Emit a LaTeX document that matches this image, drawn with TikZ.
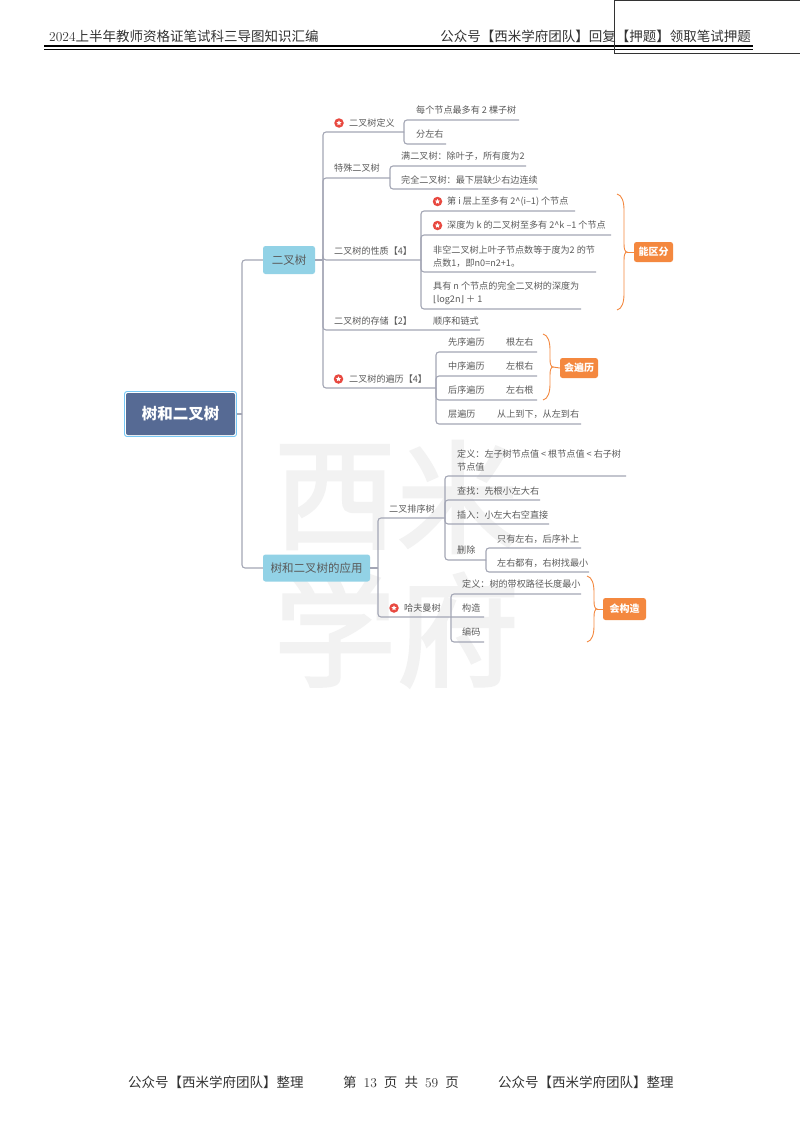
\documentclass[tikz,border=0pt]{standalone}
\usepackage{fontspec}
\usetikzlibrary{shapes.geometric}
\newfontfamily\cjk{Noto Sans CJK SC}
\newfontfamily\cjkwater[FakeBold=2.2]{Noto Sans CJK SC}
\newfontfamily\dejavu{DejaVu Sans}
\definecolor{txt}{HTML}{5A5A5A}
\definecolor{ln}{HTML}{A3A6B5}
\definecolor{org}{HTML}{F4883F}
\definecolor{sky}{HTML}{92D2E6}
\definecolor{navy}{HTML}{566A94}
\definecolor{wm}{HTML}{F2F2F2}
\definecolor{rd}{HTML}{E8483F}
\definecolor{rimb}{HTML}{78C8F5}
\tikzset{
  lbl/.style={anchor=west,inner sep=0pt,font=\cjk\fontsize{9.1}{13}\selectfont,text=txt,align=left},
  conn/.style={draw=ln,line width=1.1pt,rounded corners=3pt},
  topic/.style={fill=sky,rounded corners=2.5pt,inner sep=0pt,text=txt,font=\cjk\fontsize{11.5}{14}\selectfont},
  tag/.style={fill=org,rounded corners=2.5pt,inner sep=0pt,text=white,font=\cjk\bfseries\fontsize{10}{12}\selectfont},
  bracel/.style={draw=org,line width=.9pt},
  page/.style={inner sep=0pt,text=black!80,font=\cjk\fontsize{13.5}{16}\selectfont},
  water/.style={inner sep=0pt,text=wm,font=\cjkwater\fontsize{122}{122}\selectfont},
  icodisc/.style={circle,fill=rd,minimum size=9.5pt,inner sep=0pt},
  icostar/.style={star,star points=5,star point ratio=2.2,fill=white,minimum size=5.5pt,inner sep=0pt}
}
% name, x, y, text
\newcommand\lab[4]{\node[lbl] (#1) at (#2,#3) {#4};}
% name, elbow x, start y, line y, end x
\newcommand\ul[5]{\coordinate (#1a) at (#2,#3);\coordinate (#1b) at (#5,#4);\draw[conn] (#1a) |- (#1b);}
% name, x, y
\newcommand\ico[3]{\node[icodisc] (#1) at (#2,#3) {};\node[icostar] (#1s) at (#2,#3) {};}
% name, x, ytop, ybottom, tag node
\newcommand\brc[5]{%
 \coordinate (#1t) at (#2,#3);\coordinate (#1e) at (#2,#4);
 \coordinate (#1m) at (#2+10,{(#3+#4)/2});
 \draw[bracel] (#1t) .. controls (#2+5,#3+1) and (#2+7,#3+8) .. (#2+7,#3+16)
   -- (#2+7,{(#3+#4)/2-8}) .. controls (#2+7,{(#3+#4)/2-3}) and (#2+8,{(#3+#4)/2}) .. (#1m)
   .. controls (#2+8,{(#3+#4)/2}) and (#2+7,{(#3+#4)/2+3}) .. (#2+7,{(#3+#4)/2+8})
   -- (#2+7,#4-16) .. controls (#2+7,#4-8) and (#2+5,#4-1) .. (#1e);
 \draw[bracel] (#1m) -- (#5.west);}
\begin{document}
\begin{tikzpicture}[x=1pt,y=-1pt]
\useasboundingbox (0,0) rectangle (800,1132);
\fill[white] (0,0) rectangle (800,1132);
% watermark
\node[water] (w1) at (335,497) {西};
\node[water] (w2) at (458,497) {米};
\node[water] (w3) at (335,630) {学};
\node[water] (w4) at (458,630) {府};
% header
\node[page,anchor=west] (h1) at (49,36) {\rmfamily 2024\cjk 上半年教师资格证笔试科三导图知识汇编};
\node[page,anchor=east] (h2) at (751,36) {公众号【西米学府团队】回复【押题】领取笔试押题};
\coordinate (hl1) at (44,46);\coordinate (hl2) at (753,46);
\coordinate (hl3) at (44,49.5);\coordinate (hl4) at (753,49.5);
\draw[line width=1.6pt,black] (hl1) -- (hl2);
\draw[line width=.7pt,black] (hl3) -- (hl4);
\coordinate (ra) at (614.5,0.5);\coordinate (rb) at (800,53);
\draw[line width=.9pt,black!80] (ra) rectangle (rb);
% footer
\node[page,anchor=west] (f1) at (128,1082) {公众号【西米学府团队】整理};
\node[page,anchor=west] (f2) at (343,1082) {第\hspace{4pt} {\rmfamily 13}\hspace{4pt} 页\hspace{4pt} 共\hspace{4pt} {\rmfamily 59}\hspace{4pt} 页};
\node[page,anchor=west] (f3) at (498,1082) {公众号【西米学府团队】整理};
% main nodes
\node[draw=rimb,fill=white,line width=.9pt,rounded corners=2.5pt,inner sep=0pt,minimum width=112pt,minimum height=45pt] (rootrim) at (180.5,414) {};
\node[fill=navy,rounded corners=2pt,inner sep=0pt,minimum width=109pt,minimum height=42pt,text=white,font=\cjk\bfseries\fontsize{15.5}{18}\selectfont] (root) at (180.5,414) {树和二叉树};
\node[topic,minimum width=52pt,minimum height=28pt] (t1) at (289,260) {二叉树};
\node[topic,minimum width=107pt,minimum height=27pt] (t2) at (316.5,568) {树和二叉树的应用};
\coordinate (j0) at (242,414);
\draw[conn] (rootrim.east) -- (j0);
\draw[conn] (j0) |- (t1.west);
\draw[conn] (j0) |- (t2.west);
% branch 1
\coordinate (j1) at (323,260);
\draw[conn] (t1.east) -- (j1);
\ul{a}{323}{260}{132}{404}
\ul{b}{323}{260}{178}{390}
\ul{c}{323}{260}{260}{421}
\ul{d}{323}{260}{330}{480}
\ul{e}{323}{260}{388}{436}
\ico{ia}{339}{123}\lab{la}{349}{123}{二叉树定义}
\lab{lb}{334}{168}{特殊二叉树}
\lab{lc}{334}{251}{二叉树的性质【4】}
\lab{ld}{334}{321}{二叉树的存储【2】}
\ico{ie}{338.5}{379}\lab{le}{349}{379}{二叉树的遍历【4】}
% a children
\ul{a1}{404}{132}{120}{519}\ul{a2}{404}{132}{144}{446}
\lab{la1}{416}{110}{每个节点最多有 2 棵子树}
\lab{la2}{416}{134}{分左右}
% b children
\ul{b1}{390}{178}{166}{526}\ul{b2}{390}{178}{189}{538}
\lab{lb1}{401}{156}{满二叉树：除叶子，所有度为2}
\lab{lb2}{401}{180}{完全二叉树：最下层缺少右边连续}
% c children
\ul{c1}{421}{260}{211}{575}\ul{c2}{421}{260}{235}{611}\ul{c3}{421}{260}{272}{596}\ul{c4}{421}{260}{309}{581}
\ico{ic1}{437.5}{201.5}\lab{lc1}{447}{202}{第 i 层上至多有 2\^{}(i–1) 个节点}
\ico{ic2}{437.5}{225.5}\lab{lc2}{447}{225}{深度为 k 的二叉树至多有 2\^{}k –1 个节点}
\lab{lc3}{433}{256.5}{非空二叉树上叶子节点数等于度为2 的节\\点数1，即n0=n2+1。}
\lab{lc4}{433}{293.5}{具有 n 个节点的完全二叉树的深度为\\{\dejavu ⌊}log2n{\dejavu ⌋} ＋ 1}
\node[tag,minimum width=39pt,minimum height=20pt] (tg1) at (653.5,252) {能区分};
\brc{br1}{617}{194}{310}{tg1}
% d child
\lab{ld1}{433}{321}{顺序和链式}
% e children
\ul{e1}{436}{388}{352}{537}\ul{e2}{436}{388}{376}{537}\ul{e3}{436}{388}{400}{537}\ul{e4}{436}{388}{424}{581}
\lab{le1}{448}{342}{先序遍历}\lab{le1b}{506}{342}{根左右}
\lab{le2}{448}{366}{中序遍历}\lab{le2b}{506}{366}{左根右}
\lab{le3}{448}{390}{后序遍历}\lab{le3b}{506}{390}{左右根}
\lab{le4}{448}{414}{层遍历}\lab{le4b}{497}{414}{从上到下，从左到右}
\node[tag,minimum width=38pt,minimum height=20pt] (tg2) at (579,368) {会遍历};
\brc{br2}{543}{334}{400}{tg2}
% branch 2
\coordinate (j2) at (378,568);
\draw[conn] (t2.east) -- (j2);
\ul{f}{378}{568}{518}{445}
\ul{g}{378}{568}{617}{484}
\lab{lf}{389}{509}{二叉排序树}
\ico{ig}{394}{608}\lab{lg}{404}{608}{哈夫曼树}
\ul{f1}{445}{518}{476}{626}\ul{f2}{445}{518}{500}{540}\ul{f3}{445}{518}{524}{549}\ul{f4}{445}{518}{560}{486}
\lab{lf1}{457}{460.5}{定义：左子树节点值 < 根节点值 < 右子树\\节点值}
\lab{lf2}{457}{491}{查找：先根小左大右}
\lab{lf3}{457}{515}{插入：小左大右空直接}
\lab{lf4}{457}{550}{删除}
\ul{h1x}{486}{560}{548}{581}\ul{h2x}{486}{560}{572}{589}
\lab{lh1}{497}{539}{只有左右，后序补上}
\lab{lh2}{497}{563}{左右都有，右树找最小}
\ul{g1}{451}{617}{594}{581}\ul{g2}{451}{617}{642}{484}
\lab{lg1}{462}{584}{定义：树的带权路径长度最小}
\lab{lg2}{462}{608}{构造}
\lab{lg3}{462}{632}{编码}
\node[tag,minimum width=43pt,minimum height=22pt] (tg3) at (624.5,609) {会构造};
\brc{br3}{587}{576}{642}{tg3}
\end{tikzpicture}
\end{document}
